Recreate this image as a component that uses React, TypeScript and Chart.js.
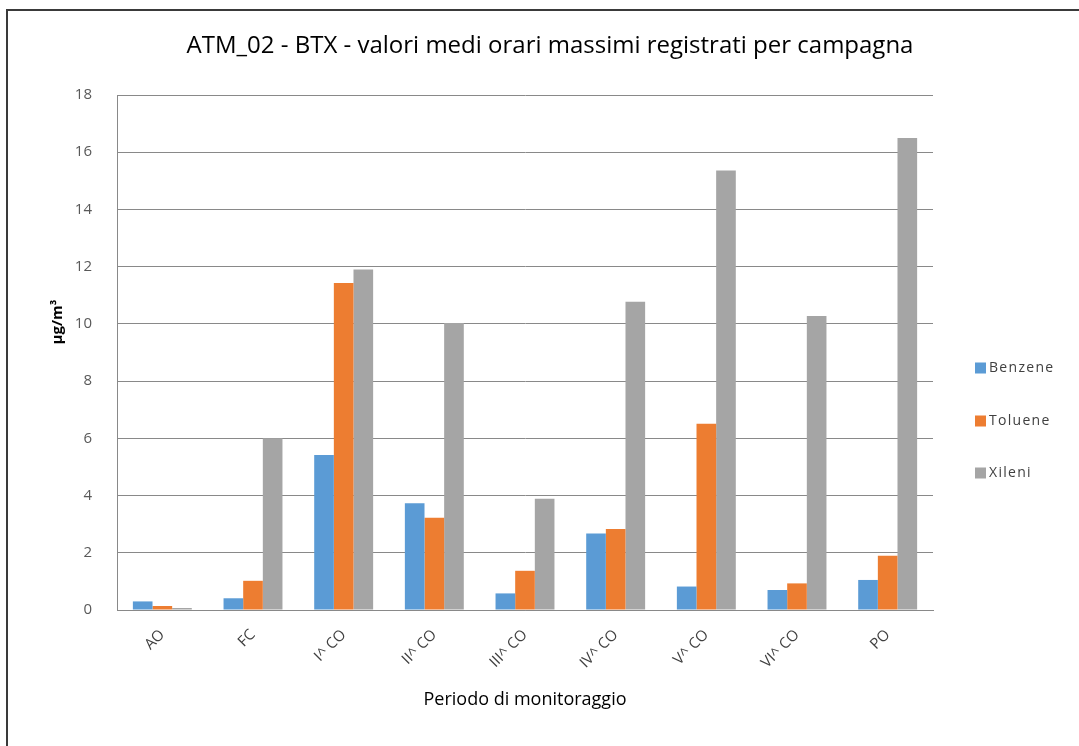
import React, { useEffect, useRef } from "react";
import { Chart, registerables } from "chart.js";

Chart.register(...registerables);

const categories = ["AO", "FC", "I^ CO", "II^ CO", "III^ CO", "IV^ CO", "V^ CO", "VI^ CO", "PO"];
const benzene = [0.3, 0.41, 5.42, 3.73, 0.58, 2.67, 0.82, 0.7, 1.05];
const toluene = [0.14, 1.02, 11.43, 3.22, 1.37, 2.83, 6.51, 0.93, 1.9];
const xileni = [0.07, 6.0, 11.9, 10.03, 3.89, 10.77, 15.36, 10.28, 16.5];
const seriesNames = ["Benzene", "Toluene", "Xileni"];
const seriesColors = ["#5B9BD5", "#ED7D31", "#A5A5A5"];
const yTicks = { min: 0, max: 18, step: 2 };
const titleText = "ATM_02 - BTX - valori medi orari massimi registrati per campagna";
const xTitle = "Periodo di monitoraggio";
const yTitle = "µg/m³";

const FONT = '"Open Sans", "Noto Sans", sans-serif';

const extrasPlugin = {
  id: "extras",
  afterDraw(chart: any) {
    const ctx = chart.ctx;
    const area = chart.chartArea;
    // chart title
    ctx.save();
    ctx.font = `24px ${FONT}`;
    ctx.fillStyle = "#000";
    ctx.textAlign = "center";
    ctx.textBaseline = "middle";
    ctx.fillText(titleText, chart.width / 2 - 1, 37);
    ctx.restore();
    // y-axis title
    ctx.save();
    ctx.translate(area.left - 59, area.top + 227);
    ctx.rotate(-Math.PI / 2);
    ctx.font = `bold 15px ${FONT}`;
    ctx.fillStyle = "#000";
    ctx.textAlign = "center";
    ctx.textBaseline = "middle";
    ctx.fillText(yTitle, 0, 0);
    ctx.restore();
    // legend
    ctx.save();
    const lx = area.right + 42;
    const ys = [area.top + 273, area.top + 326, area.top + 378];
    chart.data.datasets.forEach((ds: any, i: number) => {
      ctx.fillStyle = ds.backgroundColor;
      ctx.fillRect(lx, ys[i] - 5.5, 11, 11);
      ctx.fillStyle = "#404040";
      ctx.font = `14px ${FONT}`;
      (ctx as any).letterSpacing = "1.3px";
      ctx.textAlign = "left";
      ctx.textBaseline = "middle";
      ctx.fillText(ds.label, lx + 14, ys[i]);
    });
    ctx.restore();
  },
};

export default function App() {
  const ref = useRef<HTMLCanvasElement | null>(null);
  useEffect(() => {
    if (!ref.current) return;
    const data = [benzene, toluene, xileni];
    const chart = new Chart(ref.current, {
      type: "bar",
      data: {
        labels: categories,
        datasets: seriesNames.map((n, i) => ({
          label: n,
          data: data[i],
          backgroundColor: seriesColors[i],
          borderWidth: 0,
          categoryPercentage: 0.65,
          barPercentage: 1.0,
        })),
      },
      options: {
        responsive: false,
        animation: false,
        devicePixelRatio: 1,
        layout: { padding: { left: 0, right: 163, top: 86, bottom: 0 } },
        plugins: {
          legend: { display: false },
          tooltip: { enabled: false },
          title: { display: false },
        },
        scales: {
          x: {
            grid: { display: false, drawTicks: false },
            border: { display: true, color: "#898989", width: 1 },
            ticks: {
              color: "#404040",
              font: { family: FONT, size: 15 },
              minRotation: 45,
              maxRotation: 45,
              padding: 16,
            },
            title: {
              display: true,
              text: xTitle,
              color: "#000",
              font: { family: FONT, size: 18 },
              padding: { top: 4, bottom: 35 },
            },
            afterFit: (s: any) => {
              s.height = 136;
            },
          },
          y: {
            min: yTicks.min,
            max: yTicks.max,
            grid: { color: "#898989", lineWidth: 1, drawTicks: false },
            border: { display: true, color: "#898989", width: 1 },
            ticks: {
              stepSize: yTicks.step,
              color: "#595959",
              font: { family: FONT, size: 15 },
              padding: 25,
            },
            afterFit: (s: any) => {
              s.width = 111;
            },
          },
        },
      },
      plugins: [extrasPlugin],
    });
    return () => chart.destroy();
  }, []);

  return (
    <div style={{ position: "fixed", left: 0, top: 0, width: 1079, height: 746, overflow: "hidden", background: "#fff" }}>
      <div
        style={{
          position: "absolute",
          left: 6,
          top: 9,
          width: 1090,
          height: 760,
          border: "2px solid #3a3a3a",
          boxSizing: "border-box",
        }}
      />
      <canvas ref={ref} width={1090} height={737} style={{ position: "absolute", left: 6, top: 9 }} />
    </div>
  );
}
